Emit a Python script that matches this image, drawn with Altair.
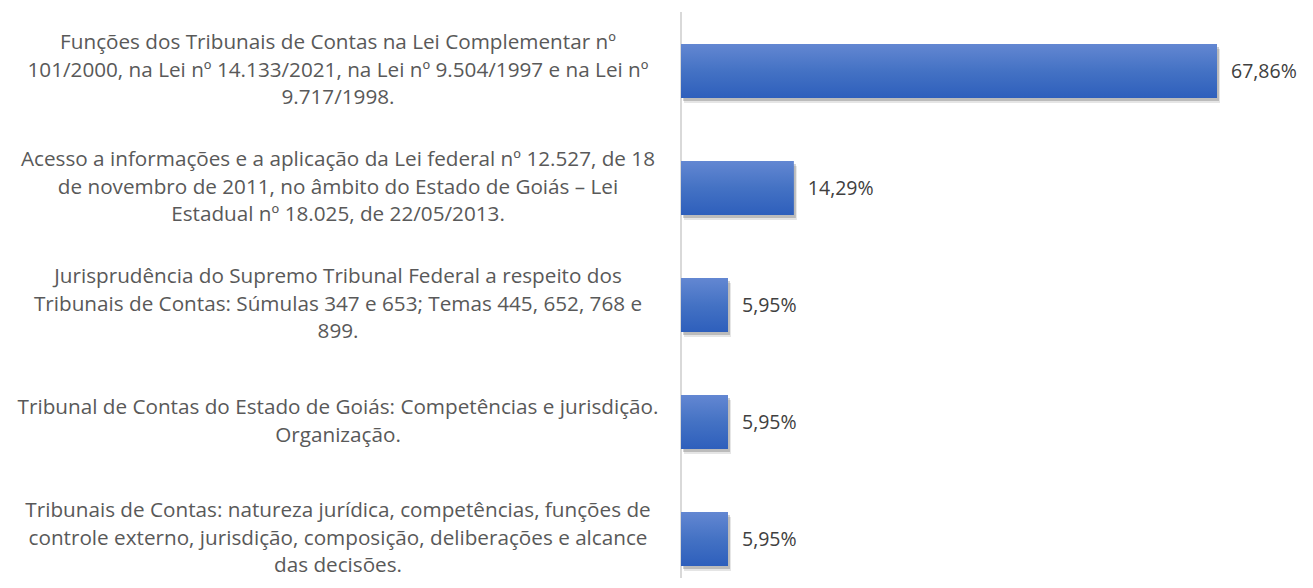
import altair as alt
import pandas as pd

categories = [
    "Funções dos Tribunais de Contas na Lei Complementar nº|101/2000, na Lei nº 14.133/2021, na Lei nº 9.504/1997 e na Lei nº|9.717/1998.",
    "Acesso a informações e a aplicação da Lei federal nº 12.527, de 18|de novembro de 2011, no âmbito do Estado de Goiás – Lei|Estadual nº 18.025, de 22/05/2013.",
    "Jurisprudência do Supremo Tribunal Federal a respeito dos|Tribunais de Contas: Súmulas 347 e 653; Temas 445, 652, 768 e|899.",
    "Tribunal de Contas do Estado de Goiás: Competências e jurisdição.|Organização.",
    "Tribunais de Contas: natureza jurídica, competências, funções de|controle externo, jurisdição, composição, deliberações e alcance|das decisões.",
]
values = [67.86, 14.29, 5.95, 5.95, 5.95]
value_labels = ["67,86%", "14,29%", "5,95%", "5,95%", "5,95%"]

df = pd.DataFrame({"cat": categories, "value": values, "label": value_labels})

FONT = "Open Sans"
LH = 27.5
H = 566
yscale = alt.Scale(paddingInner=0.5385, paddingOuter=0.188, align=0.727)
Y = alt.Y("cat:N", sort=categories, axis=None, scale=yscale)
X = alt.X("value:Q", axis=None, scale=alt.Scale(domain=[0, 79]))

base = alt.Chart(df)

shadow2 = base.mark_bar(color="#000000", opacity=0.10, xOffset=3, yOffset=5).encode(x=X, y=Y)
shadow1 = base.mark_bar(color="#000000", opacity=0.18, xOffset=2, yOffset=3).encode(x=X, y=Y)

grad = alt.Gradient(
    gradient="linear",
    stops=[
        alt.GradientStop(color="#6387d2", offset=0),
        alt.GradientStop(color="#4472c4", offset=0.5),
        alt.GradientStop(color="#2e5fbc", offset=1),
    ],
    x1=0, x2=0, y1=0, y2=1,
)
bars = base.mark_bar(color=grad).encode(x=X, y=Y)

rule = base.mark_rule(color="#d9d9d9", strokeWidth=2).encode(
    x=alt.value(0), y=alt.value(0), y2=alt.value(H)
)

vals = base.mark_text(
    align="left", baseline="middle", dx=14, dy=1, font=FONT, fontSize=19.5, color="#404040"
).encode(x=X, y=Y, text="label:N")

def cat_layer(n):
    return (
        base.transform_calculate(n="length(split(datum.cat, '|'))")
        .transform_filter(f"datum.n == {n}")
        .mark_text(
            align="center", baseline="middle", lineBreak="|", lineHeight=LH,
            dy=-(n - 1) * LH / 2, font=FONT, fontSize=20.7, color="#595959"
        )
        .encode(x=alt.value(-343), y=Y, text="cat:N")
    )

chart = alt.layer(rule, shadow2, shadow1, bars, vals, cat_layer(3), cat_layer(2)).properties(
    width=624,
    height=H,
    autosize=alt.AutoSizeParams(type="none"),
    padding={"left": 673, "top": 4, "right": 0, "bottom": 0},
).configure_view(stroke=None)

chart.save("out.html", embed_options={"renderer": "svg", "actions": False})
